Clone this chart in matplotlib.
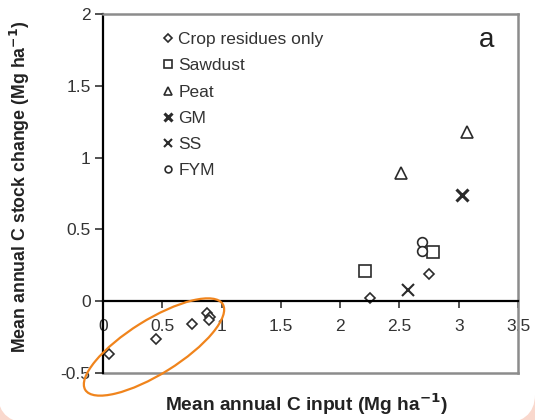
import matplotlib
matplotlib.use("Agg")
import matplotlib.pyplot as plt
from matplotlib.patches import Ellipse, FancyBboxPatch

plt.rcParams['font.family'] = ['Liberation Sans', 'DejaVu Sans']

# Data
crop_x = [0.05, 0.45, 0.75, 0.88, 0.90, 0.89, 2.25, 2.75]
crop_y = [-0.37, -0.26, -0.16, -0.08, -0.11, -0.13, 0.02, 0.19]
saw_x = [2.21, 2.78]
saw_y = [0.21, 0.34]
peat_x = [2.51, 3.07]
peat_y = [0.89, 1.18]
gm_x = [3.03]
gm_y = [0.74]
ss_x = [2.57]
ss_y = [0.08]
fym_x = [2.69, 2.69]
fym_y = [0.41, 0.35]

xticks = [0, 0.5, 1, 1.5, 2, 2.5, 3, 3.5]
xticklabels = ['0', '0.5', '1', '1.5', '2', '2.5', '3', '3.5']
yticks = [-0.5, 0, 0.5, 1, 1.5, 2]
yticklabels = ['-0.5', '0', '0.5', '1', '1.5', '2']

W, H = 535, 420
fig = plt.figure(figsize=(W / 100, H / 100), dpi=100)
fig.patch.set_facecolor('#f9d8cd')
bg = FancyBboxPatch((-2 / W, -4 / H), 537 / W, 1.5, boxstyle="round,pad=0,rounding_size=0.07",
                    transform=fig.transFigure, facecolor='white', edgecolor='none', zorder=-10)
fig.patches.append(bg)

ax = fig.add_axes([103 / W, 47 / H, 415 / W, 359 / H])
ax.set_facecolor('white')
ax.set_xlim(0, 3.5)
ax.set_ylim(-0.5, 2)

ec = '#2b2b2b'
ax.plot(crop_x, crop_y, linestyle='none', marker='D', ms=5.5, mfc='white', mec=ec, mew=1.2, label='Crop residues only', clip_on=False)
ax.plot(saw_x, saw_y, linestyle='none', marker='s', ms=8.5, mfc='white', mec=ec, mew=1.2, label='Sawdust')
ax.plot(peat_x, peat_y, linestyle='none', marker='^', ms=8.5, mfc='white', mec=ec, mew=1.2, label='Peat')
ax.plot(gm_x, gm_y, linestyle='none', marker='x', ms=8, mec=ec, mew=2.2, label='GM')
ax.plot(ss_x, ss_y, linestyle='none', marker='x', ms=8, mec=ec, mew=1.5, label='SS')
ax.plot(fym_x, fym_y, linestyle='none', marker='o', ms=7, mfc='white', mec=ec, mew=1.2, label='FYM')

# spines
ax.spines['bottom'].set_position(('data', 0))
ax.spines['bottom'].set_color('black')
ax.spines['bottom'].set_linewidth(1.6)
ax.spines['left'].set_color('black')
ax.spines['left'].set_linewidth(1.6)
for s in ['top', 'right']:
    ax.spines[s].set_color('#8c8c8c')
    ax.spines[s].set_linewidth(1.8)
ax.axhline(-0.5, color='#8c8c8c', lw=1.8, clip_on=False, zorder=0.5)

ax.set_xticks(xticks)
ax.set_xticklabels(xticklabels)
ax.set_yticks(yticks)
ax.set_yticklabels(yticklabels)
ax.tick_params(axis='x', direction='out', length=5, width=1.2, pad=8, labelsize=12.5, colors='#333333')
ax.tick_params(axis='y', direction='out', length=6, width=1.2, pad=3, labelsize=12.5, colors='#333333')

fig.text(306 / W, 1 - 404 / H, 'Mean annual C input (Mg ha$^{\\mathbf{-1}}$)', ha='center', va='center',
         fontsize=13.8, fontweight='bold', color='#222222')
fig.text(20 / W, 1 - 187 / H, 'Mean annual C stock change (Mg ha$^{\\mathbf{-1}}$)', ha='center', va='center',
         rotation=90, fontsize=12.8, fontweight='bold', color='#222222')

ax.text(487 / W, 1 - 40 / H, 'a', transform=fig.transFigure, ha='center', va='center', fontsize=20, color='#222222')

leg = ax.legend(loc='upper left', bbox_to_anchor=(161 / W, 1 - 32 / H), bbox_transform=fig.transFigure,
                frameon=False, fontsize=12.5, handlelength=0.8, handletextpad=0.2, labelspacing=0.64,
                borderpad=0, borderaxespad=0, markerscale=0.7)
for t in leg.get_texts():
    t.set_color('#333333')

ell = Ellipse((1.54, 4.2 - 3.47), 1.62, 0.54, angle=32, transform=fig.dpi_scale_trans,
              facecolor='none', edgecolor='#f0841c', lw=1.6, clip_on=False, zorder=5)
fig.patches.append(ell)

fig.savefig('out.png', dpi=100, facecolor=fig.get_facecolor())
